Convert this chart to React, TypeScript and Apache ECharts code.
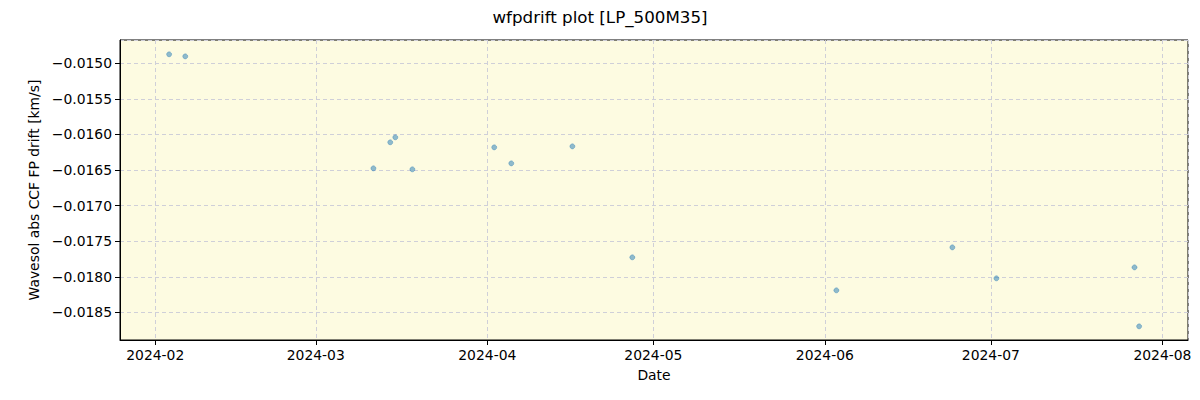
import React, { useEffect, useRef } from "react";
import * as echarts from "echarts";

const dates = [
  "2024-02-03 12:00", "2024-02-06 10:00", "2024-03-11 10:00", "2024-03-14 11:00",
  "2024-03-15 09:00", "2024-03-18 11:00", "2024-04-02 06:00", "2024-04-05 08:00",
  "2024-04-16 09:00", "2024-04-27 05:00", "2024-06-03 02:00", "2024-06-24 01:00",
  "2024-07-02 00:00", "2024-07-26 23:00", "2024-07-27 19:00",
];
const drift = [
  -0.014873, -0.014902, -0.016476, -0.01611,
  -0.01604, -0.01649, -0.016181, -0.016406,
  -0.016167, -0.017727, -0.018191, -0.017587,
  -0.018022, -0.017868, -0.018697,
];
const xMin = "2024-01-25 15:00";
const xMax = "2024-08-05 15:00";
const yMin = -0.018889;
const yMax = -0.014672;

const FONT = "DejaVu Sans";

export default function App() {
  const ref = useRef<HTMLDivElement>(null);
  useEffect(() => {
    if (!ref.current) return;
    const chart = echarts.init(ref.current, undefined, { renderer: "svg" });
    const data = dates.map((d, i) => [d, drift[i]]);
    chart.setOption({
      animation: false,
      backgroundColor: "#ffffff",
      title: {
        text: "wfpdrift plot [LP_500M35]",
        left: "center",
        top: 3,
        textStyle: { fontFamily: FONT, fontSize: 16.7, fontWeight: "normal", color: "#000" },
      },
      grid: {
        left: 120,
        right: 12,
        top: 40,
        bottom: 60,
        show: true,
        backgroundColor: "#fdfbe1",
        borderColor: "#000",
        borderWidth: 1,
      },
      xAxis: {
        type: "time",
        min: xMin,
        max: xMax,
        minInterval: 28 * 86400000,
        maxInterval: 31 * 86400000,
        name: "Date",
        nameLocation: "middle",
        nameGap: 28,
        nameTextStyle: { fontFamily: FONT, fontSize: 13.9, color: "#000" },
        axisLine: { show: true, lineStyle: { color: "#000", width: 1 } },
        axisTick: { show: true, length: 5, lineStyle: { color: "#000" } },
        axisLabel: {
          fontFamily: FONT,
          fontSize: 13.9,
          color: "#000",
          margin: 8,
          showMinLabel: false,
          showMaxLabel: false,
          formatter: (v: number) => {
            const d = new Date(v);
            return `${d.getFullYear()}-${String(d.getMonth() + 1).padStart(2, "0")}`;
          },
        },
        splitLine: { show: true, lineStyle: { color: "#cfcfd8", type: [4, 3], width: 1 } },
        minorTick: { show: false },
      },
      yAxis: {
        type: "value",
        min: yMin,
        max: yMax,
        splitNumber: 8,
        name: "Wavesol abs CCF FP drift [km/s]",
        nameLocation: "middle",
        nameGap: 77,
        nameTextStyle: { fontFamily: FONT, fontSize: 13.9, color: "#000" },
        axisLine: { show: true, lineStyle: { color: "#000", width: 1 } },
        axisTick: { show: true, length: 5, lineStyle: { color: "#000" } },
        axisLabel: {
          fontFamily: FONT,
          fontSize: 13.9,
          color: "#000",
          margin: 8,
          showMinLabel: false,
          showMaxLabel: false,
          formatter: (v: number) => (v < 0 ? "\u2212" : "") + Math.abs(v).toFixed(4),
        },
        splitLine: { show: true, lineStyle: { color: "#cfcfd8", type: [4, 3], width: 1 } },
      },
      series: [
        {
          type: "scatter",
          data,
          symbol: "circle",
          symbolSize: 5,
          itemStyle: { color: "rgba(31,119,180,0.62)", borderColor: "rgba(31,119,180,0.75)", borderWidth: 0.6 },
        },
      ],
    });
    return () => chart.dispose();
  }, []);
  return (
    <div
      ref={ref}
      style={{ position: "fixed", left: 0, top: 0, width: 1200, height: 400 }}
    />
  );
}
